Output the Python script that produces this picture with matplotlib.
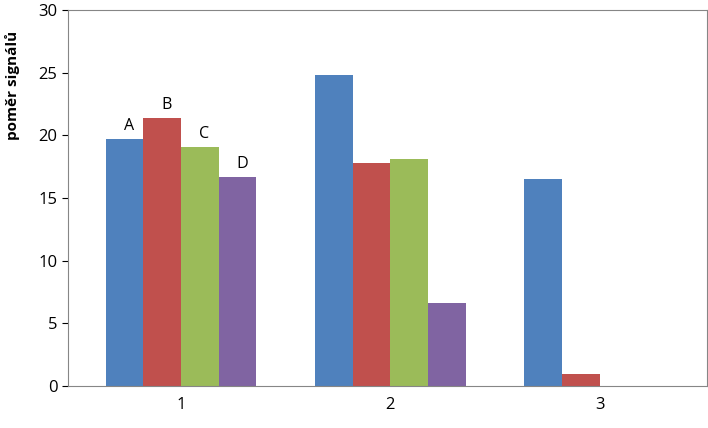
import matplotlib
matplotlib.use("Agg")
import matplotlib.pyplot as plt
import numpy as np

categories = ["1", "2", "3"]
series_names = ["A", "B", "C", "D"]
A = [19.7, 24.8, 16.5]
B = [21.4, 17.8, 0.95]
C = [19.1, 18.1, 0.0]
D = [16.7, 6.6, 0.0]
colors = ["#4F81BD", "#C0504D", "#9BBB59", "#8064A2"]

plt.rcParams["font.family"] = "Open Sans"
fig = plt.figure(figsize=(7.08, 4.28), dpi=100)
ax = fig.add_axes([0.096, 0.098, 0.902, 0.879])
x = np.arange(len(categories))
w = 0.18
for i, (vals, c, name) in enumerate(zip([A, B, C, D], colors, series_names)):
    pos = x + (i - 1.5) * w
    ax.bar(pos, vals, width=w, color=c)
    ax.text(pos[0] + 0.02, vals[0] + 0.4, name, ha="center", va="bottom", fontsize=11.5)
ax.set_xlim(-0.54, 2.51)
ax.set_ylim(0, 30)
ax.set_yticks(range(0, 31, 5))
ax.set_xticks(x)
ax.set_xticklabels(categories)
ax.tick_params(labelsize=12, length=4, direction="out")
ax.tick_params(axis="x", length=0, pad=8)
ax.set_ylabel("poměr signálů", fontsize=11, fontweight="bold")
ax.yaxis.set_label_coords(-0.075, 0.8)
for s in ax.spines.values():
    s.set_color("#868686")
fig.savefig("out.png", dpi=100)
